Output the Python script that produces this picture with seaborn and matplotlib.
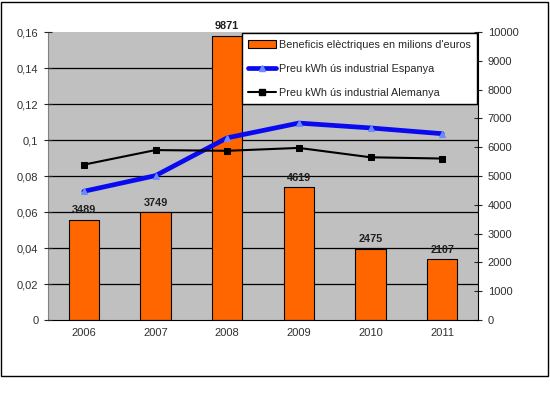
import numpy as np
import pandas as pd
import matplotlib
matplotlib.use("Agg")
import matplotlib.pyplot as plt
import seaborn as sns
from matplotlib.patches import Patch, Rectangle
from matplotlib.lines import Line2D
from matplotlib.ticker import FuncFormatter, MultipleLocator, FixedLocator

years = ["2006", "2007", "2008", "2009", "2010", "2011"]
beneficis = [3489, 3749, 9871, 4619, 2475, 2107]
preu_espanya = [0.0715, 0.0802, 0.1012, 0.1094, 0.1067, 0.1035]
preu_alemanya = [0.0863, 0.0944, 0.0940, 0.0956, 0.0904, 0.0897]

lbl_bars = "Beneficis elèctriques en milions d'euros"
lbl_es = "Preu kWh ús industrial Espanya"
lbl_de = "Preu kWh ús industrial Alemanya"

sns.set_style("white")
plt.rcParams["font.family"] = ["Liberation Sans", "DejaVu Sans"]

df = pd.DataFrame({"year": years, "beneficis": beneficis,
                   "es": preu_espanya, "de": preu_alemanya})

fig = plt.figure(figsize=(5.5, 3.99), dpi=100)
ax = fig.add_axes([48 / 550, 79 / 399, 430 / 550, 288 / 399])
ax.set_facecolor("#C0C0C0")

# bars on the primary axes (drawn below), scale shown on the right
sns.barplot(data=df, x="year", y="beneficis", ax=ax, color="#FF6600",
            saturation=1, width=0.42, edgecolor="black", linewidth=0.8, zorder=2)
ax.set_ylim(0, 10000)
ax.set_xlim(-0.5, len(years) - 0.5)
# grid follows the left axis (0.02 steps = 1250 on the bar scale)
for g in np.arange(1250, 10000, 1250):
    ax.axhline(g, color="black", lw=0.9, zorder=1)
for i, v in enumerate(beneficis):
    ax.text(i, v + 150, str(v), ha="center", va="bottom", fontsize=7.8,
            fontweight="bold", color="#202020")
ax.set_xlabel("")
ax.set_ylabel("")

ax2 = ax.twinx()
sns.lineplot(x=np.arange(len(years)), y=preu_espanya, ax=ax2, color="#0A0AF0",
             lw=3.4, marker="^", markersize=5, markerfacecolor="#6A8CFF",
             markeredgecolor="#6A8CFF", zorder=4)
sns.lineplot(x=np.arange(len(years)), y=preu_alemanya, ax=ax2, color="black",
             lw=1.5, marker="s", markersize=5, markerfacecolor="black",
             markeredgecolor="black", zorder=5)
ax2.set_ylim(0, 0.16)
ax2.yaxis.set_major_locator(MultipleLocator(0.02))
ax2.yaxis.set_major_formatter(FuncFormatter(
    lambda v, p: f"{v:.2f}".rstrip("0").rstrip(".").replace(".", ",")))

# swap sides: bar scale on the right, price scale on the left
ax.yaxis.tick_right()
ax.yaxis.set_label_position("right")
ax.yaxis.set_major_locator(MultipleLocator(1000))
ax2.yaxis.tick_left()
ax2.yaxis.set_label_position("left")
ax2.set_ylabel("")

ax.set_xticks(range(len(years)))
ax.set_xticklabels(years)
ax.xaxis.set_minor_locator(FixedLocator(np.arange(-0.5, len(years), 1)))
ax.tick_params(axis="x", which="major", length=0, labelsize=8, pad=6,
               labelcolor="#303030")
ax.tick_params(axis="x", which="minor", length=4, direction="out", width=0.8)
ax.tick_params(axis="y", length=6, direction="inout", labelsize=8, width=0.8,
               pad=4, left=False, labelleft=False, right=True, labelright=True,
               labelcolor="#303030")
ax2.tick_params(axis="y", length=6, direction="inout", labelsize=8, width=0.8,
                pad=4, left=True, labelleft=True, right=False, labelright=False,
                labelcolor="#303030")

for a in (ax, ax2):
    for s in a.spines.values():
        s.set_visible(False)
for s in ("left", "right", "bottom"):
    ax.spines[s].set_visible(True)
    ax.spines[s].set_color("black")
    ax.spines[s].set_linewidth(0.8)
ax.spines["left"].set_color("#808080")

handles = [Patch(facecolor="#FF6600", edgecolor="black", lw=0.8),
           Line2D([], [], color="#0A0AF0", lw=3.4, marker="^", markersize=4,
                  markerfacecolor="#6A8CFF", markeredgecolor="#6A8CFF"),
           Line2D([], [], color="black", lw=1.5, marker="s", markersize=4)]
leg = ax2.legend(handles, [lbl_bars, lbl_es, lbl_de], loc="upper right",
                 bbox_to_anchor=(1.0, 1.0), borderaxespad=0.1, fontsize=7.8,
                 fancybox=False, framealpha=1, edgecolor="black",
                 labelspacing=1.3, handlelength=2.6, handletextpad=0.2,
                 borderpad=0.6)
leg.get_frame().set_linewidth(1.0)
leg.set_zorder(10)

fig.patches.append(Rectangle((1 / 550, 23 / 399), 547 / 550, 374 / 399,
                             transform=fig.transFigure, fill=False,
                             edgecolor="black", lw=1.0))

fig.savefig("out.png", dpi=100)
